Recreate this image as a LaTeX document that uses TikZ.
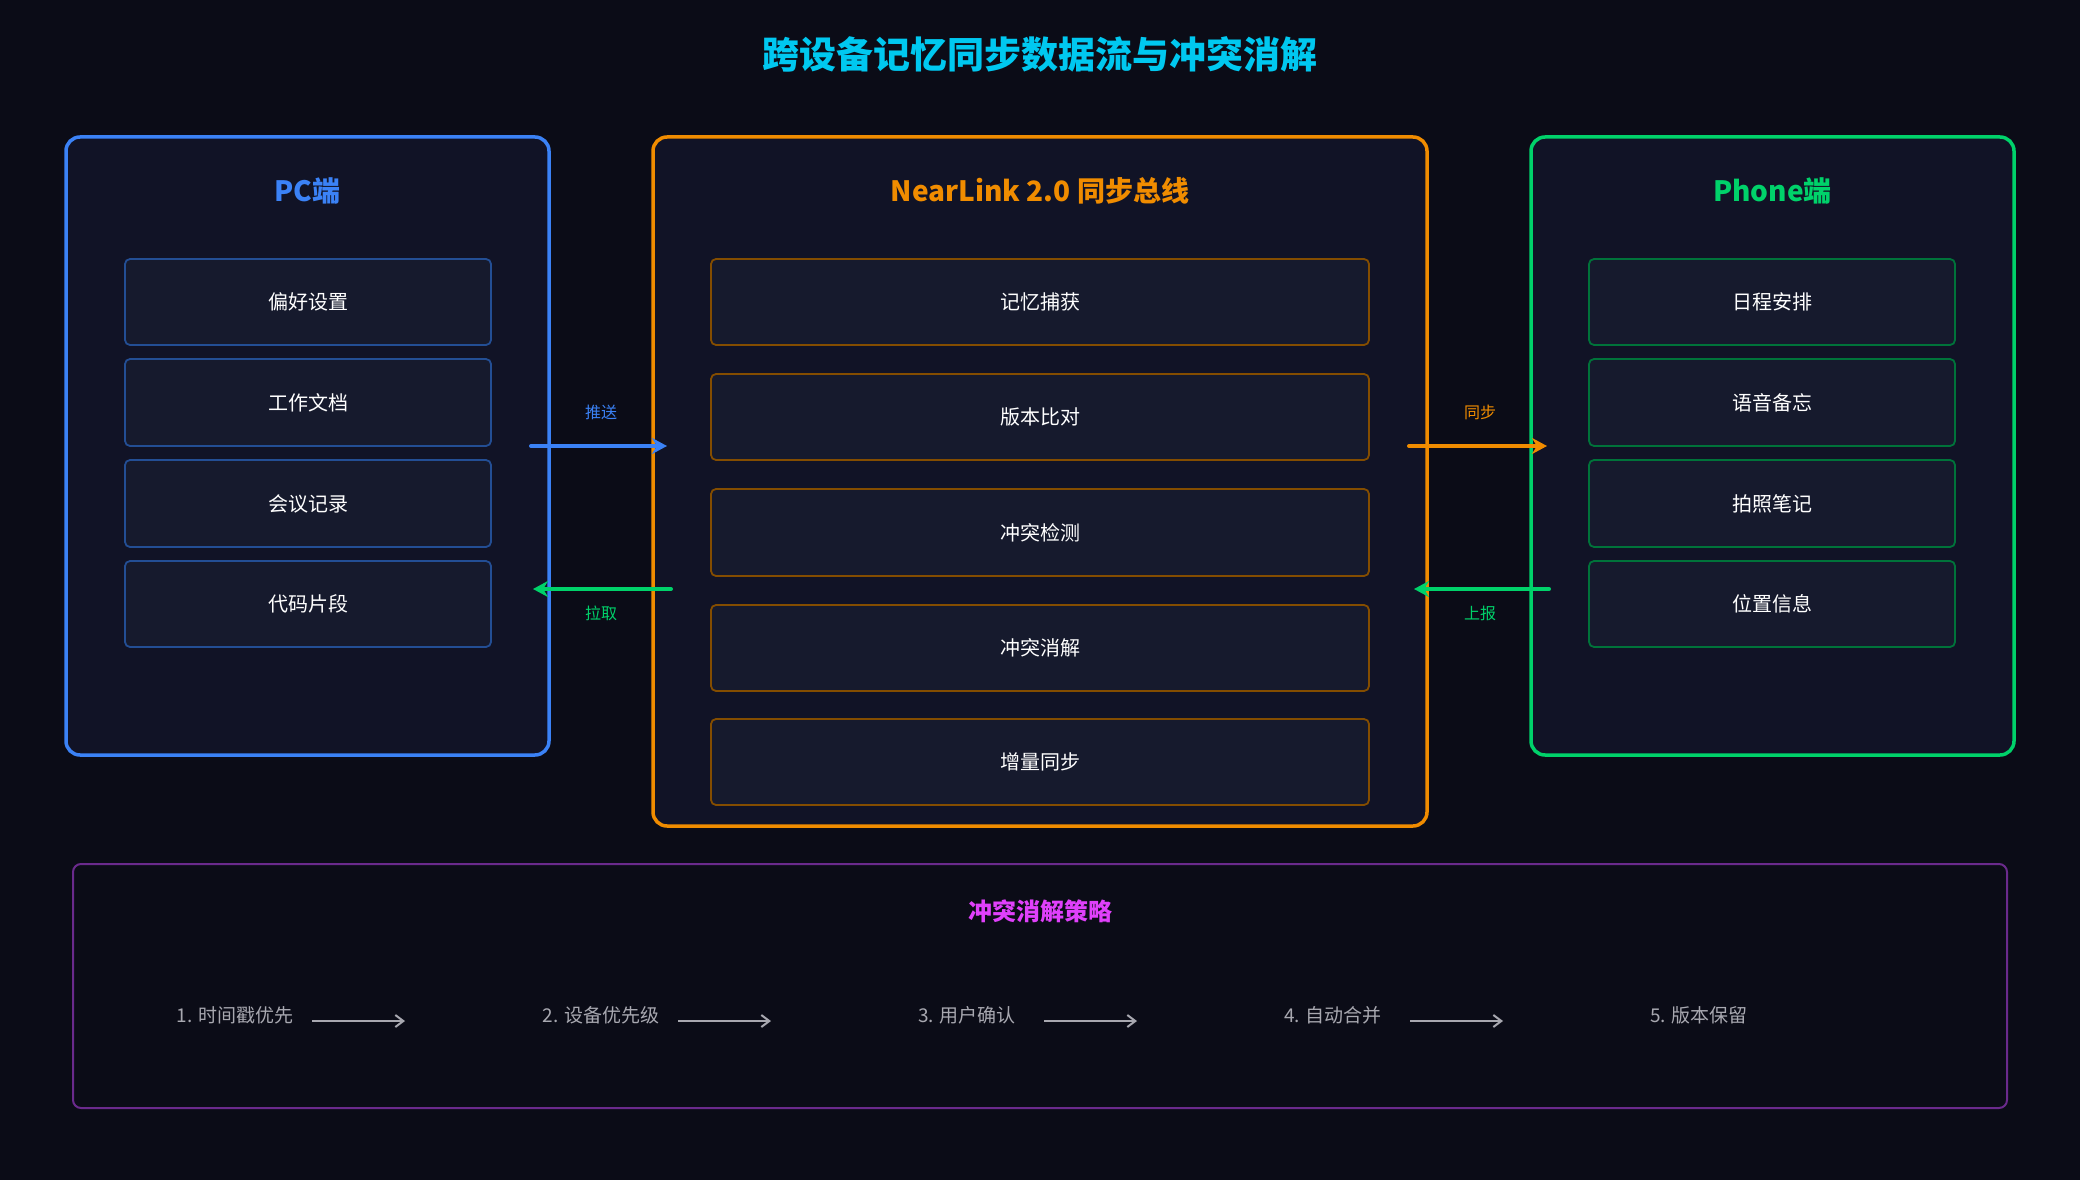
\documentclass[tikz,border=0pt]{standalone}
\usepackage{fontspec}
\setmainfont{Noto Sans CJK SC}
\usetikzlibrary{arrows.meta}
\definecolor{bg}{HTML}{0B0C17}
\definecolor{panel}{HTML}{111326}
\definecolor{item}{HTML}{161A2D}
\definecolor{cblue}{HTML}{3B82F6}
\definecolor{corange}{HTML}{F08C00}
\definecolor{cgreen}{HTML}{00D26A}
\definecolor{ccyan}{HTML}{00C8F0}
\definecolor{cpurple}{HTML}{6A2A8C}
\definecolor{cmag}{HTML}{E040FB}
\definecolor{cgray}{HTML}{A8A8B0}
\tikzset{
 panelbox/.style={draw=#1, line width=3.5pt, fill=panel, rounded corners=14pt},
 itembox/.style={draw=#1, line width=1.8pt, fill=item, rounded corners=5pt, text=white, font=\fontsize{20}{24}\selectfont},
 ptitle/.style={text=#1, font=\fontsize{28}{32}\selectfont\bfseries},
 flow/.style={draw=#1, line width=4pt, line cap=round, -{Stealth[length=15pt,width=16pt]}},
 flab/.style={text=#1, font=\fontsize{16}{18}\selectfont},
 steptxt/.style={text=cgray, font=\fontsize{19}{22}\selectfont},
 steparr/.style={draw=cgray, line width=2pt, -{Straight Barb[length=8pt,width=12pt]}}
}
\begin{document}
\begin{tikzpicture}[x=1pt,y=-1pt]
\fill[bg] (0,0) rectangle (2080,1180);
\useasboundingbox (0,0) rectangle (2080,1180);
\node[text=ccyan, font=\fontsize{37}{40}\selectfont\bfseries] (title) at (1040,54) {跨设备记忆同步数据流与冲突消解};
% panels
\draw[panelbox=cblue] (66,137) rectangle (549,755);
\draw[panelbox=corange] (653,137) rectangle (1427,826);
\draw[panelbox=cgreen] (1531,137) rectangle (2014,755);
\node[ptitle=cblue] (pct) at (307.5,191) {PC端};
\node[ptitle=corange] (nlt) at (1040,191) {NearLink 2.0 同步总线};
\node[ptitle=cgreen] (pht) at (1772.5,191) {Phone端};
% PC items
\foreach \t/\a/\b [count=\i] in {偏好设置/259/345,工作文档/359/446,会议记录/460/547,代码片段/561/647}{
 \node[itembox={cblue!60!black}, minimum width=366pt, minimum height={(\b-\a)*1pt}] (pc\i) at (308,{(\a+\b)/2}) {\t};
}
\foreach \t/\a/\b [count=\i] in {记忆捕获/259/345,版本比对/374/460,冲突检测/489/576,冲突消解/605/691,增量同步/719/805}{
 \node[itembox={corange!55!black}, minimum width=658pt, minimum height={(\b-\a)*1pt}] (nl\i) at (1040,{(\a+\b)/2}) {\t};
}
\foreach \t/\a/\b [count=\i] in {日程安排/259/345,语音备忘/359/446,拍照笔记/460/547,位置信息/561/647}{
 \node[itembox={cgreen!55!black}, minimum width=366pt, minimum height={(\b-\a)*1pt}] (ph\i) at (1772,{(\a+\b)/2}) {\t};
}
% flows
\coordinate (a1) at (531,446); \coordinate (a2) at (667,446);
\coordinate (b1) at (671,589); \coordinate (b2) at (533,589);
\coordinate (c1) at (1409,446); \coordinate (c2) at (1547,446);
\coordinate (d1) at (1549,589); \coordinate (d2) at (1414,589);
\draw[flow=cblue] (a1) -- (a2);
\draw[flow=cgreen] (b1) -- (b2);
\draw[flow=corange] (c1) -- (c2);
\draw[flow=cgreen] (d1) -- (d2);
\node[flab=cblue] (l1) at (601,412) {推送};
\node[flab=cgreen] (l2) at (601,613) {拉取};
\node[flab=corange] (l3) at (1480,412) {同步};
\node[flab=cgreen] (l4) at (1480,613) {上报};
% bottom
\draw[draw=cpurple, line width=2pt, fill=bg, rounded corners=8pt] (73,864) rectangle (2007,1108);
\node[text=cmag, font=\fontsize{24}{28}\selectfont\bfseries] (bt) at (1040,911) {冲突消解策略};
\node[steptxt] (s1) at (235,1015) {1. 时间戳优先};
\node[steptxt] (s2) at (601,1015) {2. 设备优先级};
\node[steptxt] (s3) at (967,1015) {3. 用户确认};
\node[steptxt] (s4) at (1333,1015) {4. 自动合并};
\node[steptxt] (s5) at (1699,1015) {5. 版本保留};
\foreach \x in {312,678,1044,1410}{
 \draw[steparr] (\x,1021) -- ++(93,0);
}
\end{tikzpicture}
\end{document}
